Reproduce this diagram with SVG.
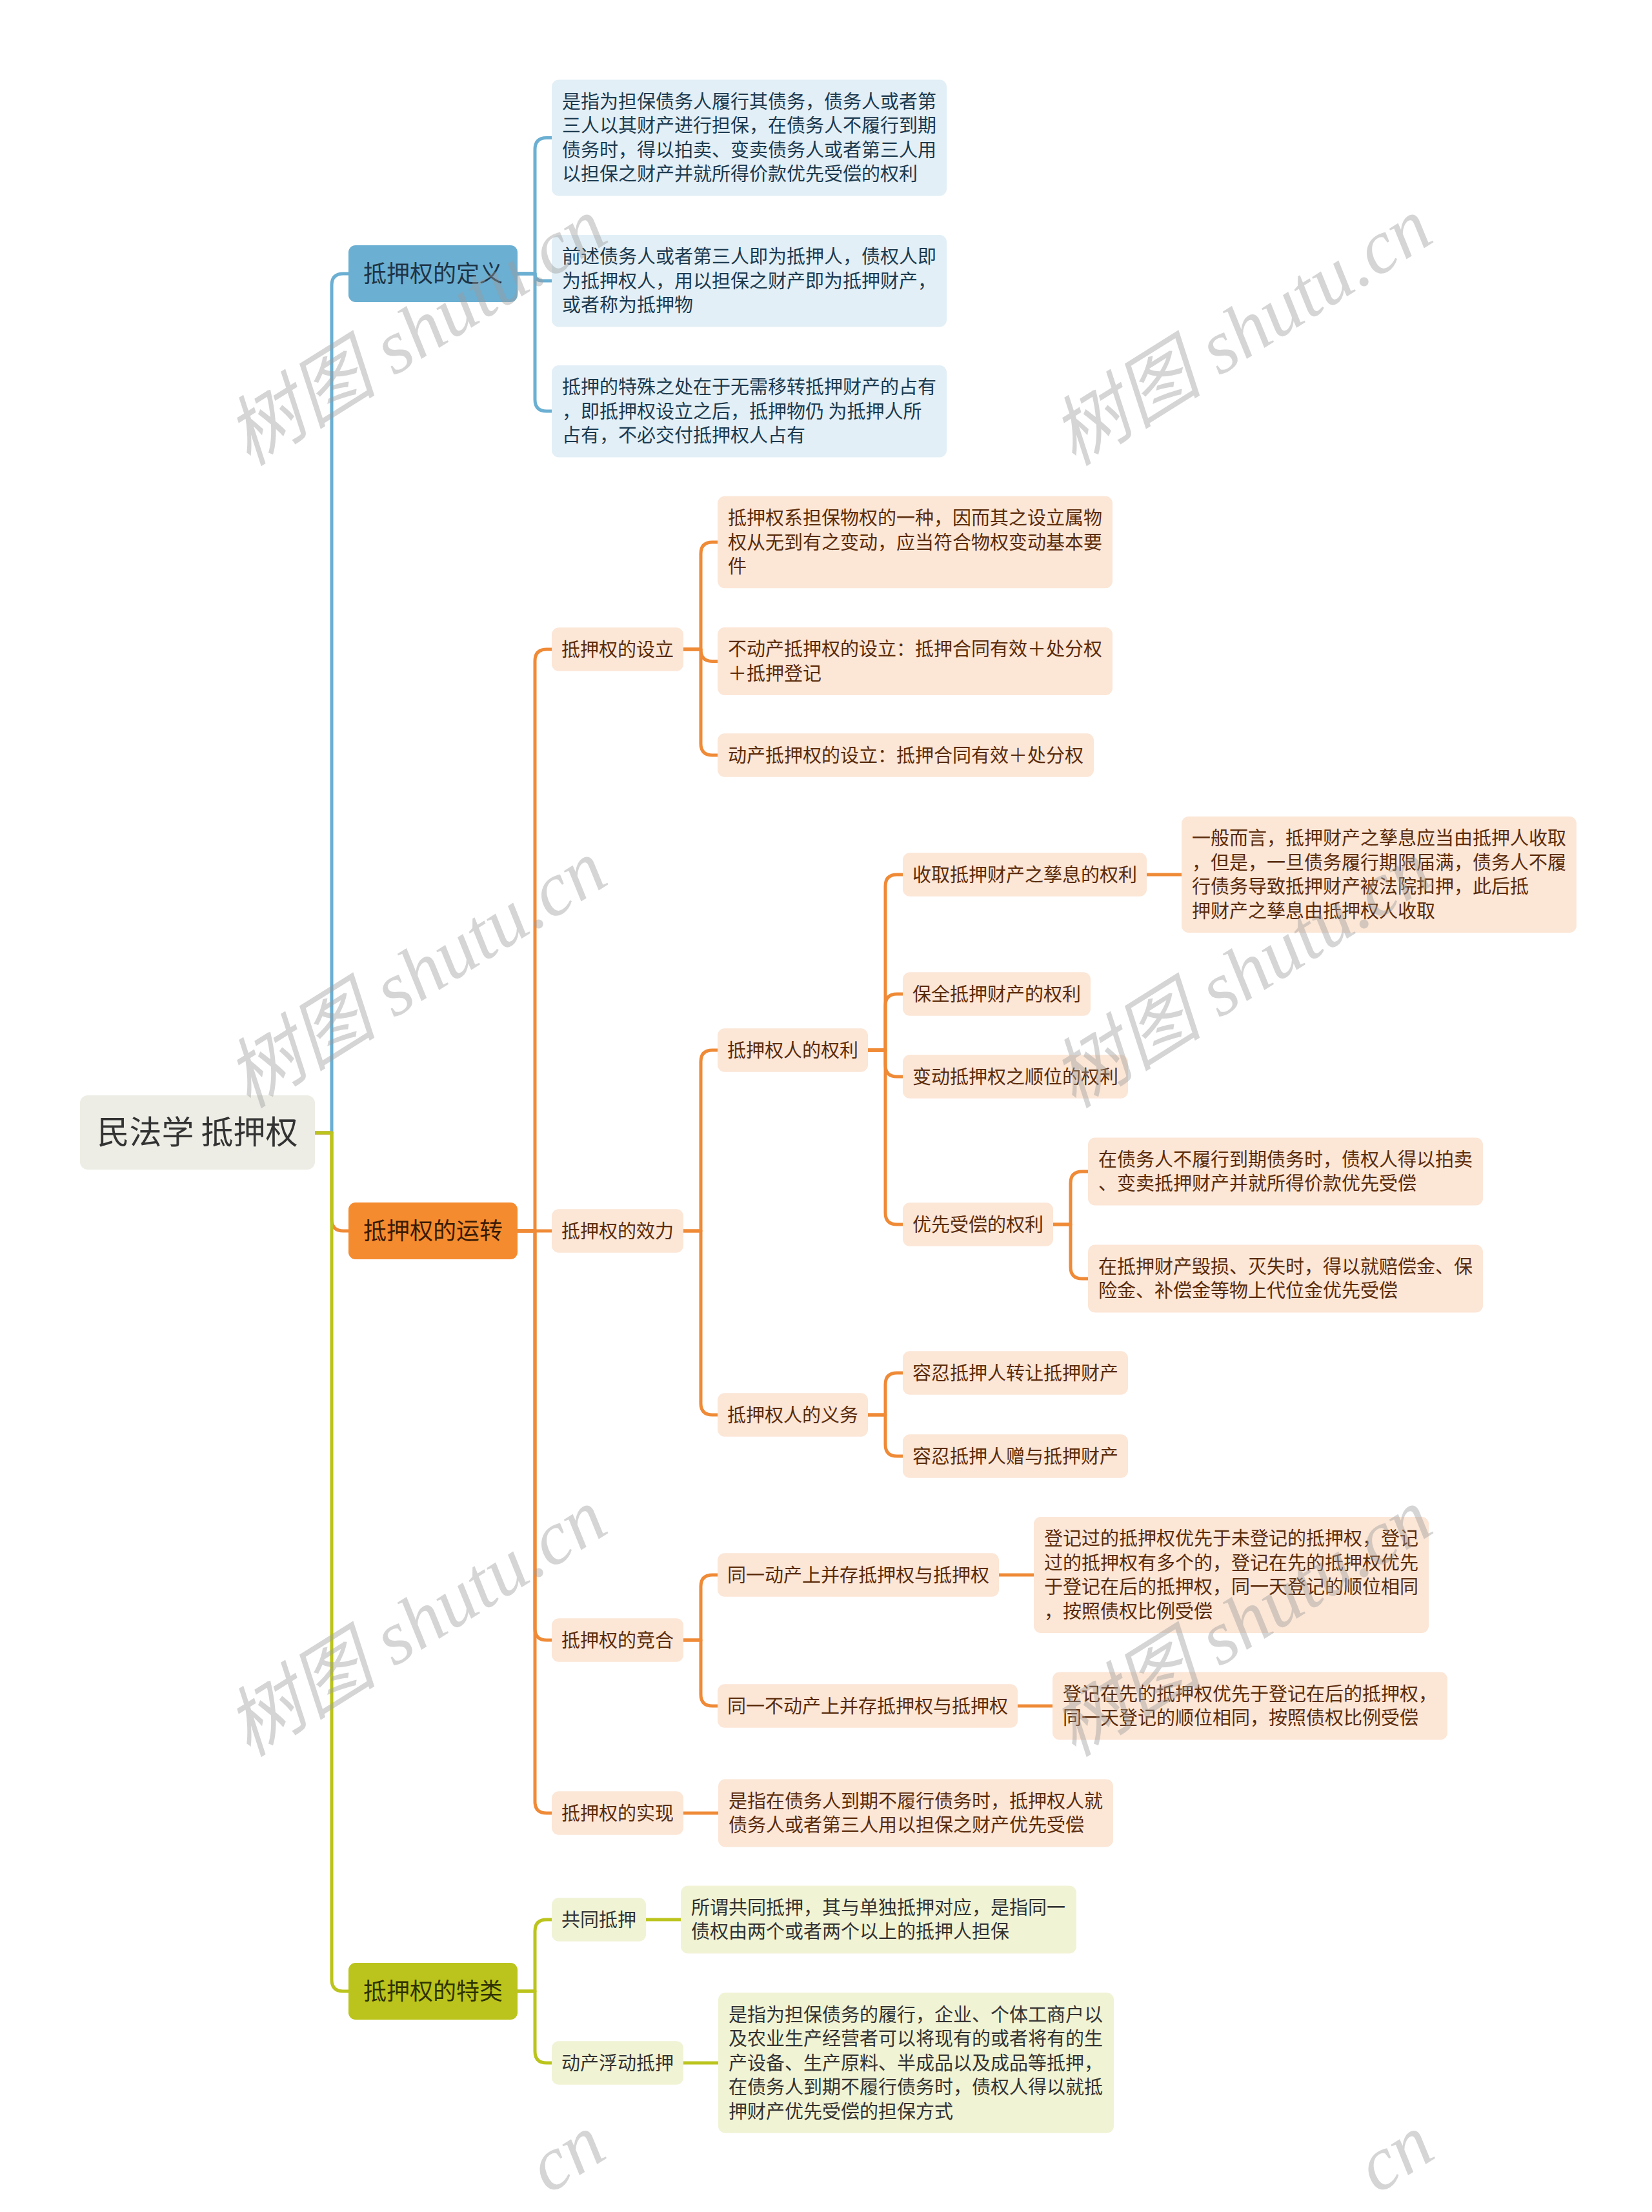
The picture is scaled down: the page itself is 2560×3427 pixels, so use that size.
<svg xmlns="http://www.w3.org/2000/svg" width="2560" height="3427" viewBox="0 0 2560 3427">
<style>
text{font-family:'Noto Sans CJK SC','Noto Sans',sans-serif;}
.root{fill:#EDEDE5;}
.rootT{font-size:50px;fill:#333333;}
.l1T{font-size:36px;}
.t{font-size:29px;}
.bL1{fill:#6BAFD2;}
.oL1{fill:#F58B2F;}
.gL1{fill:#BBC41C;}
.bN{fill:#E2EFF6;}
.oN{fill:#FCE6D6;}
.gN{fill:#F1F3D5;}
.bT{fill:#1D3A4F;}
.oT{fill:#5A2C0C;}
.gT{fill:#333333;}
.c{fill:none;stroke-width:5;stroke-linecap:round;stroke-linejoin:round;}
.cb{stroke:#6BAFD2;}
.co{stroke:#EF8A37;}
.cg{stroke:#BBC41C;}
.wm{font-family:'Liberation Serif','Noto Sans CJK SC',serif;font-style:italic;font-size:118px;fill:#9a9a9a;fill-opacity:0.42;}
</style>
<rect width="2560" height="3427" fill="#FFFFFF"/>

<g id="connectors">
<path class="c cb" d="M488,1755 H514 V442 Q514,424 532,424 H540"/>
<path class="c co" d="M488,1755 H514 V1889 Q514,1907 532,1907 H540"/>
<path class="c cg" d="M488,1755 H514 V3067 Q514,3085 532,3085 H540"/>

<path class="c cb" d="M802,424 H829 V231.5 Q829,213.5 847,213.5 H855"/>
<path class="c cb" d="M802,424 H829 V424 Q829,435 840,435 H855"/>
<path class="c cb" d="M802,424 H829 V619 Q829,637 847,637 H855"/>

<path class="c co" d="M802,1907 H829 V1024 Q829,1006 847,1006 H855"/>
<path class="c co" d="M802,1907 H855"/>
<path class="c co" d="M802,1907 H829 V2523 Q829,2541 847,2541 H855"/>
<path class="c co" d="M802,1907 H829 V2791 Q829,2809 847,2809 H855"/>

<path class="c co" d="M1059,1006 H1086 V858 Q1086,840 1104,840 H1112"/>
<path class="c co" d="M1059,1006 H1086 V1006.5 Q1086,1024.5 1104,1024.5 H1112"/>
<path class="c co" d="M1059,1006 H1086 V1152 Q1086,1170 1104,1170 H1112"/>

<path class="c co" d="M1059,1907 H1086 V1645 Q1086,1627 1104,1627 H1112"/>
<path class="c co" d="M1059,1907 H1086 V2174 Q1086,2192 1104,2192 H1112"/>

<path class="c co" d="M1345,1627 H1372 V1373 Q1372,1355 1390,1355 H1399"/>
<path class="c co" d="M1345,1627 H1372 V1558 Q1372,1540 1390,1540 H1399"/>
<path class="c co" d="M1345,1627 H1372 V1650 Q1372,1668 1390,1668 H1399"/>
<path class="c co" d="M1345,1627 H1372 V1879 Q1372,1897 1390,1897 H1399"/>
<path class="c co" d="M1777,1355 H1831"/>
<path class="c co" d="M1632,1897 H1659 V1833 Q1659,1815 1677,1815 H1686"/>
<path class="c co" d="M1632,1897 H1659 V1963 Q1659,1981 1677,1981 H1686"/>

<path class="c co" d="M1345,2192 H1372 V2145 Q1372,2127 1390,2127 H1399"/>
<path class="c co" d="M1345,2192 H1372 V2238 Q1372,2256 1390,2256 H1399"/>

<path class="c co" d="M1059,2541 H1086 V2458 Q1086,2440 1104,2440 H1112"/>
<path class="c co" d="M1059,2541 H1086 V2625 Q1086,2643 1104,2643 H1112"/>
<path class="c co" d="M1548,2440 H1602"/>
<path class="c co" d="M1577,2643 H1631"/>
<path class="c co" d="M1059,2809 H1113"/>

<path class="c cg" d="M802,3085 H829 V2992 Q829,2974 847,2974 H855"/>
<path class="c cg" d="M802,3085 H829 V3178 Q829,3196 847,3196 H855"/>
<path class="c cg" d="M1001,2974 H1055"/>
<path class="c cg" d="M1059,3196 H1113"/>
</g>

<g id="root">
<rect class="root" x="124" y="1697" width="364" height="115" rx="12"/>
<text class="rootT" x="306" y="1772" text-anchor="middle">民法学 抵押权</text>
</g>

<g id="def">
<rect class="bL1" x="540" y="380" width="262" height="88" rx="11"/>
<text class="l1T" x="671" y="437" text-anchor="middle" fill="#1E3446">抵押权的定义</text>
</g>
<g id="def-1">
<rect class="bN" x="855" y="123.5" width="612" height="180" rx="11"/>
<text class="t bT" x="871" y="167.75">是指为担保债务人履行其债务，债务人或者第<tspan x="871" dy="37.5">三人以其财产进行担保，在债务人不履行到期</tspan><tspan x="871" dy="37.5">债务时，得以拍卖、变卖债务人或者第三人用</tspan><tspan x="871" dy="37.5">以担保之财产并就所得价款优先受偿的权利</tspan></text>
</g>
<g id="def-2">
<rect class="bN" x="855" y="364" width="612" height="142.5" rx="11"/>
<text class="t bT" x="871" y="408">前述债务人或者第三人即为抵押人，债权人即<tspan x="871" dy="37.5">为抵押权人，用以担保之财产即为抵押财产，</tspan><tspan x="871" dy="37.5">或者称为抵押物</tspan></text>
</g>
<g id="def-3">
<rect class="bN" x="855" y="566" width="612" height="142.5" rx="11"/>
<text class="t bT" x="871" y="610">抵押的特殊之处在于无需移转抵押财产的占有<tspan x="871" dy="37.5">，即抵押权设立之后，抵押物仍 为抵押人所</tspan><tspan x="871" dy="37.5">占有，不必交付抵押权人占有</tspan></text>
</g>

<g id="op">
<rect class="oL1" x="540" y="1863" width="262" height="88" rx="11"/>
<text class="l1T" x="671" y="1920" text-anchor="middle" fill="#3A1A04">抵押权的运转</text>
</g>

<g id="setup">
<rect class="oN" x="855" y="972.25" width="204" height="67.5" rx="11"/>
<text class="t oT" x="957" y="1016.5" text-anchor="middle">抵押权的设立</text>
</g>
<g id="setup-1">
<rect class="oN" x="1112" y="768.75" width="612" height="142.5" rx="11"/>
<text class="t oT" x="1128" y="813">抵押权系担保物权的一种，因而其之设立属物<tspan x="1128" dy="37.5">权从无到有之变动，应当符合物权变动基本要</tspan><tspan x="1128" dy="37.5">件</tspan></text>
</g>
<g id="setup-2">
<rect class="oN" x="1112" y="972" width="612" height="105" rx="11"/>
<text class="t oT" x="1128" y="1016.25">不动产抵押权的设立：抵押合同有效＋处分权<tspan x="1128" dy="37.5">＋抵押登记</tspan></text>
</g>
<g id="setup-3">
<rect class="oN" x="1112" y="1136.25" width="583" height="67.5" rx="11"/>
<text class="t oT" x="1128" y="1180.5">动产抵押权的设立：抵押合同有效＋处分权</text>
</g>

<g id="effect">
<rect class="oN" x="855" y="1873.25" width="204" height="67.5" rx="11"/>
<text class="t oT" x="957" y="1917.5" text-anchor="middle">抵押权的效力</text>
</g>
<g id="rights">
<rect class="oN" x="1112" y="1593.25" width="233" height="67.5" rx="11"/>
<text class="t oT" x="1228.5" y="1637.5" text-anchor="middle">抵押权人的权利</text>
</g>
<g id="rights-1">
<rect class="oN" x="1399" y="1321.25" width="378" height="67.5" rx="11"/>
<text class="t oT" x="1588" y="1365.5" text-anchor="middle">收取抵押财产之孳息的权利</text>
</g>
<g id="rights-1a">
<rect class="oN" x="1831" y="1265" width="612" height="180" rx="11"/>
<text class="t oT" x="1847" y="1309.25">一般而言，抵押财产之孳息应当由抵押人收取<tspan x="1847" dy="37.5">，但是，一旦债务履行期限届满，债务人不履</tspan><tspan x="1847" dy="37.5">行债务导致抵押财产被法院扣押，此后抵</tspan><tspan x="1847" dy="37.5">押财产之孳息由抵押权人收取</tspan></text>
</g>
<g id="rights-2">
<rect class="oN" x="1399" y="1506.25" width="291" height="67.5" rx="11"/>
<text class="t oT" x="1544.5" y="1550.5" text-anchor="middle">保全抵押财产的权利</text>
</g>
<g id="rights-3">
<rect class="oN" x="1399" y="1634.25" width="349" height="67.5" rx="11"/>
<text class="t oT" x="1573.5" y="1678.5" text-anchor="middle">变动抵押权之顺位的权利</text>
</g>
<g id="rights-4">
<rect class="oN" x="1399" y="1863.25" width="233" height="67.5" rx="11"/>
<text class="t oT" x="1515.5" y="1907.5" text-anchor="middle">优先受偿的权利</text>
</g>
<g id="rights-4a">
<rect class="oN" x="1686" y="1762.5" width="612" height="105" rx="11"/>
<text class="t oT" x="1702" y="1806.75">在债务人不履行到期债务时，债权人得以拍卖<tspan x="1702" dy="37.5">、变卖抵押财产并就所得价款优先受偿</tspan></text>
</g>
<g id="rights-4b">
<rect class="oN" x="1686" y="1928.5" width="612" height="105" rx="11"/>
<text class="t oT" x="1702" y="1972.75">在抵押财产毁损、灭失时，得以就赔偿金、保<tspan x="1702" dy="37.5">险金、补偿金等物上代位金优先受偿</tspan></text>
</g>
<g id="duties">
<rect class="oN" x="1112" y="2158.25" width="233" height="67.5" rx="11"/>
<text class="t oT" x="1228.5" y="2202.5" text-anchor="middle">抵押权人的义务</text>
</g>
<g id="duties-1">
<rect class="oN" x="1399" y="2093.25" width="349" height="67.5" rx="11"/>
<text class="t oT" x="1573.5" y="2137.5" text-anchor="middle">容忍抵押人转让抵押财产</text>
</g>
<g id="duties-2">
<rect class="oN" x="1399" y="2222.25" width="349" height="67.5" rx="11"/>
<text class="t oT" x="1573.5" y="2266.5" text-anchor="middle">容忍抵押人赠与抵押财产</text>
</g>

<g id="compete">
<rect class="oN" x="855" y="2507.25" width="204" height="67.5" rx="11"/>
<text class="t oT" x="957" y="2551.5" text-anchor="middle">抵押权的竞合</text>
</g>
<g id="compete-1">
<rect class="oN" x="1112" y="2406.25" width="436" height="67.5" rx="11"/>
<text class="t oT" x="1330" y="2450.5" text-anchor="middle">同一动产上并存抵押权与抵押权</text>
</g>
<g id="compete-1a">
<rect class="oN" x="1602" y="2350" width="612" height="180" rx="11"/>
<text class="t oT" x="1618" y="2394.25">登记过的抵押权优先于未登记的抵押权，登记<tspan x="1618" dy="37.5">过的抵押权有多个的，登记在先的抵押权优先</tspan><tspan x="1618" dy="37.5">于登记在后的抵押权，同一天登记的顺位相同</tspan><tspan x="1618" dy="37.5">，按照债权比例受偿</tspan></text>
</g>
<g id="compete-2">
<rect class="oN" x="1112" y="2609.25" width="465" height="67.5" rx="11"/>
<text class="t oT" x="1344.5" y="2653.5" text-anchor="middle">同一不动产上并存抵押权与抵押权</text>
</g>
<g id="compete-2a">
<rect class="oN" x="1631" y="2590.5" width="612" height="105" rx="11"/>
<text class="t oT" x="1647" y="2634.75">登记在先的抵押权优先于登记在后的抵押权，<tspan x="1647" dy="37.5">同一天登记的顺位相同，按照债权比例受偿</tspan></text>
</g>

<g id="realize">
<rect class="oN" x="855" y="2775.25" width="204" height="67.5" rx="11"/>
<text class="t oT" x="957" y="2819.5" text-anchor="middle">抵押权的实现</text>
</g>
<g id="realize-1">
<rect class="oN" x="1113" y="2756.5" width="612" height="105" rx="11"/>
<text class="t oT" x="1129" y="2800.75">是指在债务人到期不履行债务时，抵押权人就<tspan x="1129" dy="37.5">债务人或者第三人用以担保之财产优先受偿</tspan></text>
</g>

<g id="special">
<rect class="gL1" x="540" y="3041" width="262" height="88" rx="11"/>
<text class="l1T" x="671" y="3098" text-anchor="middle" fill="#2F3300">抵押权的特类</text>
</g>
<g id="special-1">
<rect class="gN" x="855" y="2940.25" width="146" height="67.5" rx="11"/>
<text class="t gT" x="928" y="2984.5" text-anchor="middle">共同抵押</text>
</g>
<g id="special-1a">
<rect class="gN" x="1055" y="2921.5" width="613" height="105" rx="11"/>
<text class="t gT" x="1071" y="2965.75">所谓共同抵押，其与单独抵押对应，是指同一<tspan x="1071" dy="37.5">债权由两个或者两个以上的抵押人担保</tspan></text>
</g>
<g id="special-2">
<rect class="gN" x="855" y="3162.25" width="204" height="67.5" rx="11"/>
<text class="t gT" x="957" y="3206.5" text-anchor="middle">动产浮动抵押</text>
</g>
<g id="special-2a">
<rect class="gN" x="1113" y="3087.25" width="613" height="217.5" rx="11"/>
<text class="t gT" x="1129" y="3131.5">是指为担保债务的履行，企业、个体工商户以<tspan x="1129" dy="37.5">及农业生产经营者可以将现有的或者将有的生</tspan><tspan x="1129" dy="37.5">产设备、生产原料、半成品以及成品等抵押，</tspan><tspan x="1129" dy="37.5">在债务人到期不履行债务时，债权人得以就抵</tspan><tspan x="1129" dy="37.5">押财产优先受偿的担保方式</tspan></text>
</g>

<g id="watermark">
<text class="wm" transform="translate(645,514) rotate(-32)" text-anchor="middle" dy="40">树图 shutu.cn</text>
<text class="wm" transform="translate(1924,514) rotate(-32)" text-anchor="middle" dy="40">树图 shutu.cn</text>
<text class="wm" transform="translate(645,1509) rotate(-32)" text-anchor="middle" dy="40">树图 shutu.cn</text>
<text class="wm" transform="translate(1924,1509) rotate(-32)" text-anchor="middle" dy="40">树图 shutu.cn</text>
<text class="wm" transform="translate(645,2514) rotate(-32)" text-anchor="middle" dy="40">树图 shutu.cn</text>
<text class="wm" transform="translate(1924,2514) rotate(-32)" text-anchor="middle" dy="40">树图 shutu.cn</text>
<text class="wm" transform="translate(850,3400) rotate(-32)">cn</text>
<text class="wm" transform="translate(2134,3400) rotate(-32)">cn</text>
</g>
</svg>
